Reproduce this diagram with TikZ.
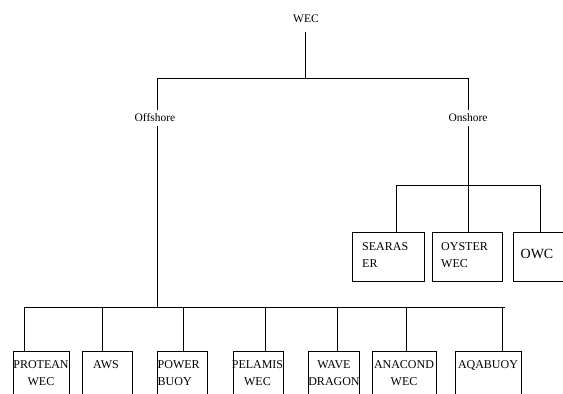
\documentclass[tikz,border=0pt]{standalone}
\usepackage{fontspec}
\setmainfont{Liberation Serif}
\begin{document}
\begin{tikzpicture}[x=1pt,y=-1pt,
  conn/.style={line width=0.8pt, black},
  boxn/.style={draw, line width=0.8pt, inner sep=0pt, anchor=north west},
  lbl/.style={inner sep=0pt, font=\fontsize{11.5}{14}\selectfont},
  btxt/.style={inner sep=0pt, font=\fontsize{12}{17}\selectfont, align=center},
  btxtl/.style={inner sep=0pt, font=\fontsize{12}{17}\selectfont, align=left, anchor=west}]
\useasboundingbox (0,0) rectangle (563,394);
\clip (0,0) rectangle (563,394);
% labels
\node[lbl] (wec) at (306,19) {WEC};
\node[lbl] (off) at (155,118) {Offshore};
\node[lbl] (on) at (468,118) {Onshore};
% junction coordinates
\coordinate (j0) at (305,78);
\coordinate (jl) at (157,78);
\coordinate (jr) at (468,78);
\coordinate (jb) at (157,307);
\coordinate (jo) at (468,185);
% onshore boxes
\node[boxn, minimum width=72pt, minimum height=49pt] (sea) at (352,232) {};
\node[boxn, minimum width=70pt, minimum height=49pt] (oys) at (432,232) {};
\node[boxn, minimum width=50pt, minimum height=49pt] (owc) at (513,232) {};
\node[btxtl] (seat) at (362,255.5) {SEARAS\\ER};
\node[btxtl] (oyst) at (441,255.5) {OYSTER\\WEC};
\node[inner sep=0pt, font=\fontsize{14}{17}\selectfont] (owct) at (537,254) {OWC};
% offshore boxes
\node[boxn, minimum width=56pt, minimum height=60pt] (pro) at (13,351) {};
\node[boxn, minimum width=50pt, minimum height=60pt] (aws) at (82,351) {};
\node[boxn, minimum width=50pt, minimum height=60pt] (pow) at (157,351) {};
\node[boxn, minimum width=50pt, minimum height=60pt] (pel) at (233,351) {};
\node[boxn, minimum width=51pt, minimum height=60pt] (wav) at (308,351) {};
\node[boxn, minimum width=64pt, minimum height=60pt] (ana) at (372,351) {};
\node[boxn, minimum width=66pt, minimum height=60pt] (aqa) at (455,351) {};
\node[btxt] (prot) at (41,373.5) {PROTEAN\\WEC};
\node[btxt] (awst) at (106,365) {AWS};
\node[btxtl] (powt) at (157.5,373.5) {POWER\\BUOY};
\node[btxt] (pelt) at (257.5,373.5) {PELAMIS\\WEC};
\node[btxt] (wavt) at (334,373.5) {WAVE\\DRAGON};
\node[btxt] (anat) at (404,373.5) {ANACOND\\WEC};
\node[btxt] (aqat) at (488,365) {AQABUOY};
% connectors top
\draw[conn] ([yshift=-9pt]wec.south -| j0) -- (j0);
\draw[conn] (jl) -- (jr);
\draw[conn] (jl) -- ([yshift=4pt]off.north -| jl);
\draw[conn] (jr) -- ([yshift=4pt]on.north -| jr);
\draw[conn] ([yshift=-4pt]off.south -| jb) -- (jb);
\draw[conn] ([yshift=-4pt]on.south -| jo) -- (jo);
% onshore bus
\draw[conn] (396,185) -- (540,185);
\draw[conn] (396,185) -- (396,185 |- sea.north);
\draw[conn] (jo) -- (jo |- oys.north);
\draw[conn] (540,185) -- (540,185 |- owc.north);
% offshore bus
\draw[conn] (24,307) -- (505,307);
\foreach \x/\b in {24/pro,102/aws,183/pow,265/pel,337/wav,406/ana,502/aqa}
  \draw[conn] (\x,307) -- (\x,307 |- \b.north);
\end{tikzpicture}
\end{document}
